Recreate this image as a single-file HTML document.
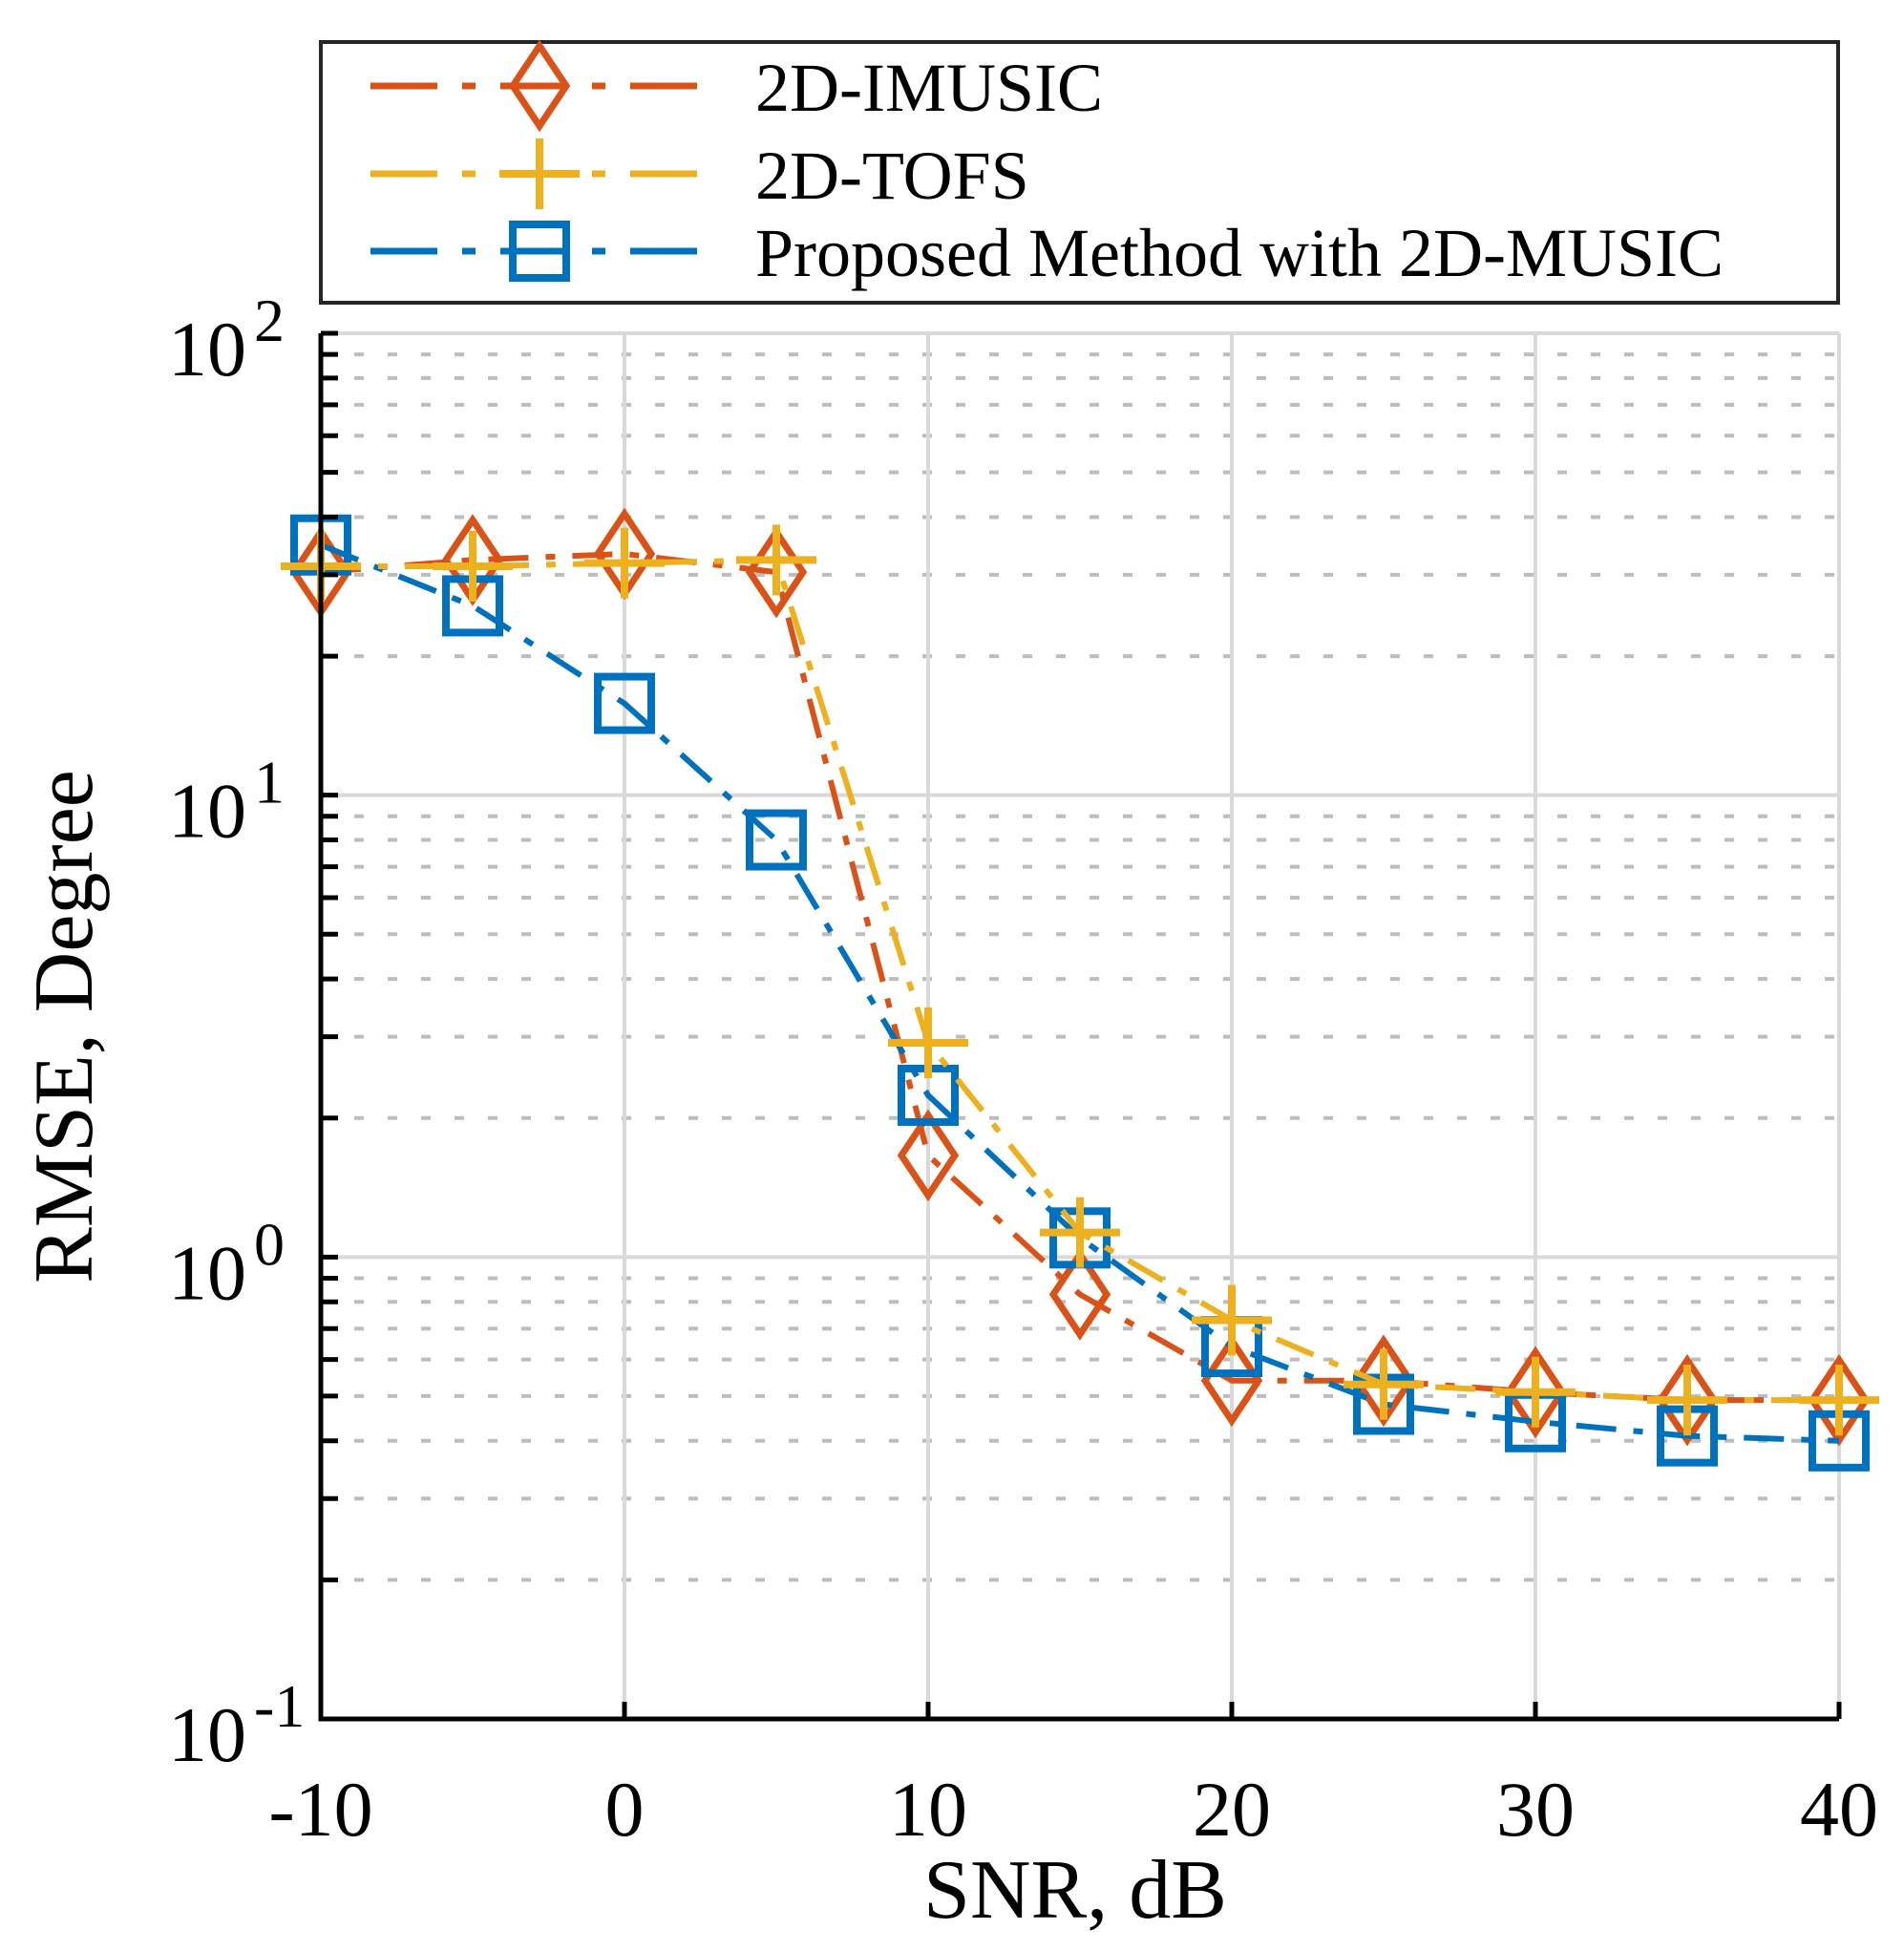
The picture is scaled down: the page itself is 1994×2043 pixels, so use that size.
<!DOCTYPE html>
<html><head><meta charset="utf-8"><style>html,body{margin:0;padding:0;background:#fff}svg{display:block}</style></head>
<body>
<svg id="chart" width="1994" height="2043" viewBox="0 0 1994 2043" xmlns="http://www.w3.org/2000/svg" font-family="'Liberation Serif', serif">
<g id="grid"></g>
<g id="series"></g>
<g id="axes"></g>
<g id="legend"></g>
</svg>
<script>
const snr = [-10,-5,0,5,10,15,20,25,30,35,40];
const imusic = [30.4,32.3,33.3,30.4,1.66,0.83,0.54,0.54,0.51,0.49,0.49];
const tofs = [31.3,31.3,31.8,32.3,2.91,1.13,0.73,0.53,0.51,0.49,0.49];
const proposed = [34.8,25.7,15.8,8.0,2.24,1.10,0.64,0.48,0.44,0.41,0.40];
const xTicks = [-10,0,10,20,30,40];
const yTickExp = [2,1,0,-1];
const seriesNames = ['2D-IMUSIC','2D-TOFS','Proposed Method with 2D-MUSIC'];

const L=336,R=1926,T=349,B=1800;
const NS='http://www.w3.org/2000/svg';
function X(v){return L+(v+10)/50*(R-L);}
function Y(v){return T+(2-Math.log10(v))/3*(B-T);}
function mk(tag,attrs,parent){const e=document.createElementNS(NS,tag);for(const k in attrs)e.setAttribute(k,attrs[k]);parent.appendChild(e);return e;}
const grid=document.getElementById('grid'),ser=document.getElementById('series'),axes=document.getElementById('axes'),leg=document.getElementById('legend');

for(let e=-1;e<2;e++)for(let m=2;m<=9;m++){const y=Y(m*Math.pow(10,e));
 const g=mk('line',{x1:L,x2:R,y1:y,y2:y,stroke:'#bdbdbd','stroke-width':4,'stroke-dasharray':'10 25'},grid);
 
 const t=mk('line',{x1:L,x2:L+18,y1:y,y2:y,stroke:'#000','stroke-width':5},axes);
 }
yTickExp.forEach(e=>{const y=Y(Math.pow(10,e));
 const g=mk('line',{x1:L,x2:R,y1:y,y2:y,stroke:'#d9d9d9','stroke-width':4},grid);
 
 const t=mk('line',{x1:L,x2:L+18,y1:y,y2:y,stroke:'#000','stroke-width':5},axes);
 
 const tx=mk('text',{x:L-78,y:y+44,'font-size':82,'text-anchor':'end',fill:'#000'},axes);
 
 tx.textContent='10';
 const sp=mk('text',{x:L-70,y:y+8,'font-size':64,'text-anchor':'start',fill:'#000'},axes);
 
 sp.textContent=String(e);});
xTicks.forEach(v=>{const x=X(v);
 const g=mk('line',{x1:x,x2:x,y1:T,y2:B,stroke:'#d9d9d9','stroke-width':4},grid);
 
 const t=mk('line',{x1:x,x2:x,y1:B,y2:B-18,stroke:'#000','stroke-width':5},axes);
 
 const tx=mk('text',{x:x,y:1922,'font-size':82,'text-anchor':'middle',fill:'#000'},axes);
 
 tx.textContent=String(v);});
const ax=mk('path',{d:`M${L},${T} V${B} H${R}`,fill:'none',stroke:'#000','stroke-width':5},axes);

const xl=mk('text',{x:1126,y:2008,'font-size':88,'text-anchor':'middle',fill:'#000'},axes);

xl.textContent='SNR, dB';
const yl=mk('text',{x:0,y:0,'font-size':88,'text-anchor':'middle',fill:'#000',transform:'translate(96,1075) rotate(-90)'},axes);

yl.textContent='RMSE, Degree';

const colors=['#D95319','#EDB120','#0072BD'];
const dash='42 18 10 18';
function marker(type,x,y,c,parent){let e;
 if(type===0)e=mk('path',{d:`M${x},${y-42} L${x+28},${y} L${x},${y+42} L${x-28},${y} Z`,fill:'none',stroke:c,'stroke-width':7},parent);
 else if(type===1)e=mk('path',{d:`M${x-42},${y} H${x+42} M${x},${y-37} V${y+37}`,fill:'none',stroke:c,'stroke-width':8},parent);
 else e=mk('rect',{x:x-28,y:y-28,width:56,height:56,fill:'none',stroke:c,'stroke-width':8},parent);
 return e;}
[imusic,tofs,proposed].forEach((arr,i)=>{
 const g=mk('g',{},ser);
 
 const pts=arr.map((v,j)=>X(snr[j])+','+Y(v)).join(' ');
 const pl=mk('polyline',{points:pts,fill:'none',stroke:colors[i],'stroke-width':6,'stroke-dasharray':dash},g);
 
 arr.forEach((v,j)=>{const m=marker(i,X(snr[j]),Y(v),colors[i],g);
  });
});
ser.appendChild(ser.children[1]);

const box=mk('rect',{x:336,y:44,width:1589,height:273,fill:'#fff',stroke:'#262626','stroke-width':4},leg);

const ly=[90,182,263];
seriesNames.forEach((n,i)=>{
 const g=mk('g',{},leg);
 
 const ln=mk('line',{x1:388,x2:744,y1:ly[i],y2:ly[i],stroke:colors[i],'stroke-width':7,'stroke-dasharray':'70 26 14 26 70 26 14 26 70'},g);
 
 const m=marker(i,565,ly[i],colors[i],g);
 
 const t=mk('text',{x:791,y:ly[i]+26,'font-size':72,fill:'#000'},g);
 
 t.textContent=n;
});
</script>
</body></html>
